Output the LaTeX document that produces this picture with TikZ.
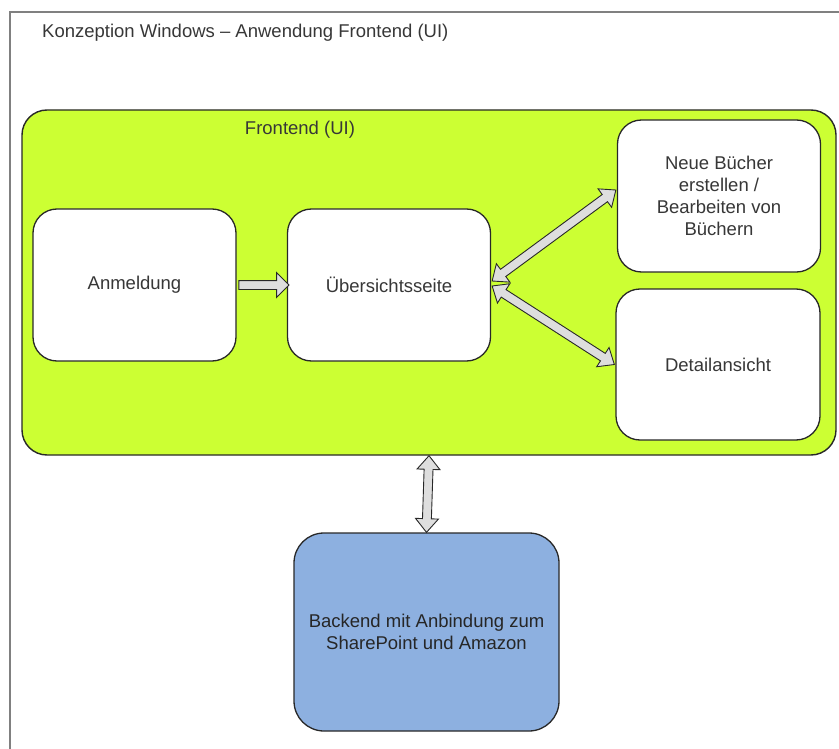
\documentclass[tikz,border=0pt]{standalone}
\usepackage{fontspec}
\setmainfont{Liberation Sans}
\usetikzlibrary{calc,shapes.arrows}

\definecolor{frontgreen}{RGB}{204,255,51}
\definecolor{backblue}{RGB}{141,176,224}
\definecolor{arrowgray}{RGB}{222,222,222}
\definecolor{textgray}{RGB}{55,55,55}
\definecolor{framegray}{RGB}{128,128,128}
\definecolor{edgedark}{RGB}{40,40,40}

\tikzset{
  labeltext/.style={text=textgray, font=\fontsize{18.5}{22}\selectfont, inner sep=0pt},
  container/.style={draw=edgedark, line width=1.4pt, fill=frontgreen, rounded corners=25pt,
    minimum width=814pt, minimum height=345pt, inner sep=0pt},
  screen/.style={draw=edgedark, line width=1.3pt, fill=white, rounded corners=24pt,
    minimum width=203pt, minimum height=152pt, inner sep=0pt, align=center,
    text=textgray, font=\fontsize{18.5}{22}\selectfont},
  backendbox/.style={screen, fill=backblue, rounded corners=30pt,
    minimum width=265pt, minimum height=198pt, text=black!85},
  flowarrow/.style={single arrow, draw=edgedark, fill=arrowgray, line width=0.9pt,
    inner xsep=0pt, inner ysep=4pt, minimum width=0pt,
    single arrow head extend=8pt, single arrow tip angle=90, single arrow head indent=0pt},
  linkarrow/.style={double arrow, draw=edgedark, fill=arrowgray, line width=0.9pt,
    inner xsep=0pt, inner ysep=4pt, minimum width=0pt,
    double arrow head extend=7pt, double arrow tip angle=80, double arrow head indent=0pt}
}

% block arrow node #2 of style #1, stretched from point #3 to point #4
\newcommand\joinarrow[4]{%
  \path let \p1=(#3), \p2=(#4),
    \n1={atan2(\y2-\y1,\x2-\x1)}, \n2={veclen(\x2-\x1,\y2-\y1)} in
    node[#1, minimum height=\n2, rotate=\n1] (#2) at ($(\p1)!0.5!(\p2)$) {};}

\begin{document}
\begin{tikzpicture}[x=1pt, y=-1pt]
  \useasboundingbox (0,0) rectangle (839,749);

  % outer page frame
  \draw[framegray, line width=2pt] (10,749) -- (10,12) -- (839,12);
  \node[labeltext, anchor=west] (title) at (42,33) {Konzeption Windows -- Anwendung Frontend (UI)};

  % frontend container and its screens
  \node[container] (front) at (429,282.5) {};
  \node[labeltext] (fronttitle) at (300,130) {Frontend (UI)};

  \node[screen] (anm) at (134.5,285) {Anmeldung};
  \node[screen] (ueb) at (389,285) {Übersichtsseite};
  \node[screen] (neu) at (719,196) {Neue Bücher\\erstellen /\\Bearbeiten von\\Büchern};
  \node[screen, minimum width=204pt, minimum height=151pt] (det) at (718,364.5) {Detailansicht};

  % backend
  \node[backendbox] (back) at (426.5,632) {Backend mit Anbindung zum\\SharePoint und Amazon};

  % connectors
  \coordinate (uebtop) at ($(ueb.east)+(1,-4)$);
  \coordinate (uebbot) at ($(ueb.east)+(1,1)$);
  \coordinate (neuin) at ($(neu.west)+(-1,-6)$);
  \coordinate (detin) at ($(det.west)+(-1,0)$);

  \joinarrow{flowarrow}{a1}{anm.east}{ueb.west}
  \joinarrow{linkarrow}{a2}{uebtop}{neuin}
  \joinarrow{linkarrow}{a3}{uebbot}{detin}
  \joinarrow{linkarrow}{a4}{front.south}{back.north}
\end{tikzpicture}
\end{document}
